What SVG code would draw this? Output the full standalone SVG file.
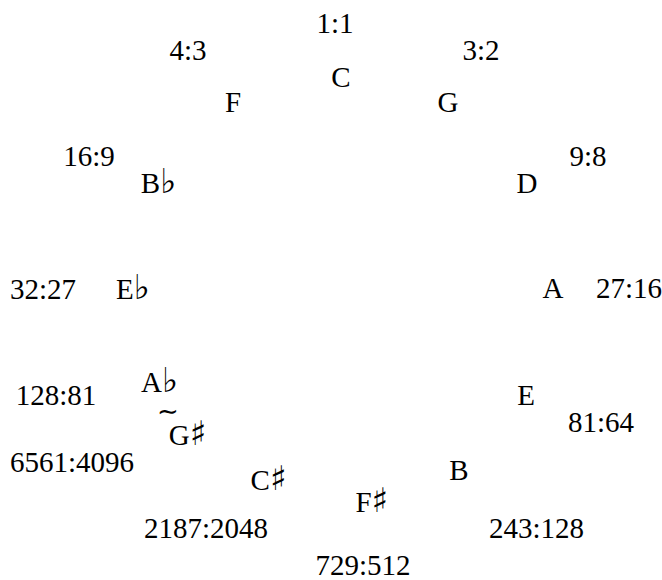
<svg xmlns="http://www.w3.org/2000/svg" width="662" height="580" viewBox="0 0 662 580">
<style>
text{font-family:"Liberation Serif","DejaVu Serif",serif;font-size:29px;fill:#000;text-anchor:middle}
.acc{font-family:"DejaVu Sans",sans-serif;font-size:34px;fill:#000}
.sim{font-family:"DejaVu Sans",sans-serif;font-size:26px}
</style>
<rect width="662" height="580" fill="#fff"/>
<g id="ratios">
<g id="r-1-1"><text x="335" y="33">1:1</text></g>
<g id="r-4-3"><text x="188" y="60">4:3</text></g>
<g id="r-3-2"><text x="481" y="60">3:2</text></g>
<g id="r-16-9"><text x="89" y="166">16:9</text></g>
<g id="r-9-8"><text x="588" y="166">9:8</text></g>
<g id="r-32-27"><text x="43" y="299">32:27</text></g>
<g id="r-27-16"><text x="629" y="298">27:16</text></g>
<g id="r-128-81"><text x="56" y="405">128:81</text></g>
<g id="r-81-64"><text x="601" y="432">81:64</text></g>
<g id="r-6561-4096"><text x="72" y="472">6561:4096</text></g>
<g id="r-2187-2048"><text x="206" y="538">2187:2048</text></g>
<g id="r-243-128"><text x="536.5" y="538">243:128</text></g>
<g id="r-729-512"><text x="363" y="575">729:512</text></g>
</g>
<g id="notes">
<g id="n-C"><text x="341" y="87">C</text></g>
<g id="n-F"><text x="233" y="111.5">F</text></g>
<g id="n-G"><text x="448" y="112">G</text></g>
<g id="n-Bb"><text x="158.5" y="193">B<tspan class="acc">♭</tspan></text></g>
<g id="n-D"><text x="527" y="193">D</text></g>
<g id="n-Eb"><text x="133" y="299">E<tspan class="acc">♭</tspan></text></g>
<g id="n-A"><text x="553" y="298">A</text></g>
<g id="n-Ab-Gs"><text x="159.5" y="392">A<tspan class="acc">♭</tspan></text><text class="sim" x="168" y="420">∼</text><text x="187.5" y="445">G<tspan class="acc">♯</tspan></text></g>
<g id="n-E"><text x="526" y="405">E</text></g>
<g id="n-B"><text x="459" y="480">B</text></g>
<g id="n-Cs"><text x="268.5" y="490">C<tspan class="acc">♯</tspan></text></g>
<g id="n-Fs"><text x="371.7" y="511.7">F<tspan class="acc">♯</tspan></text></g>
</g>
</svg>
